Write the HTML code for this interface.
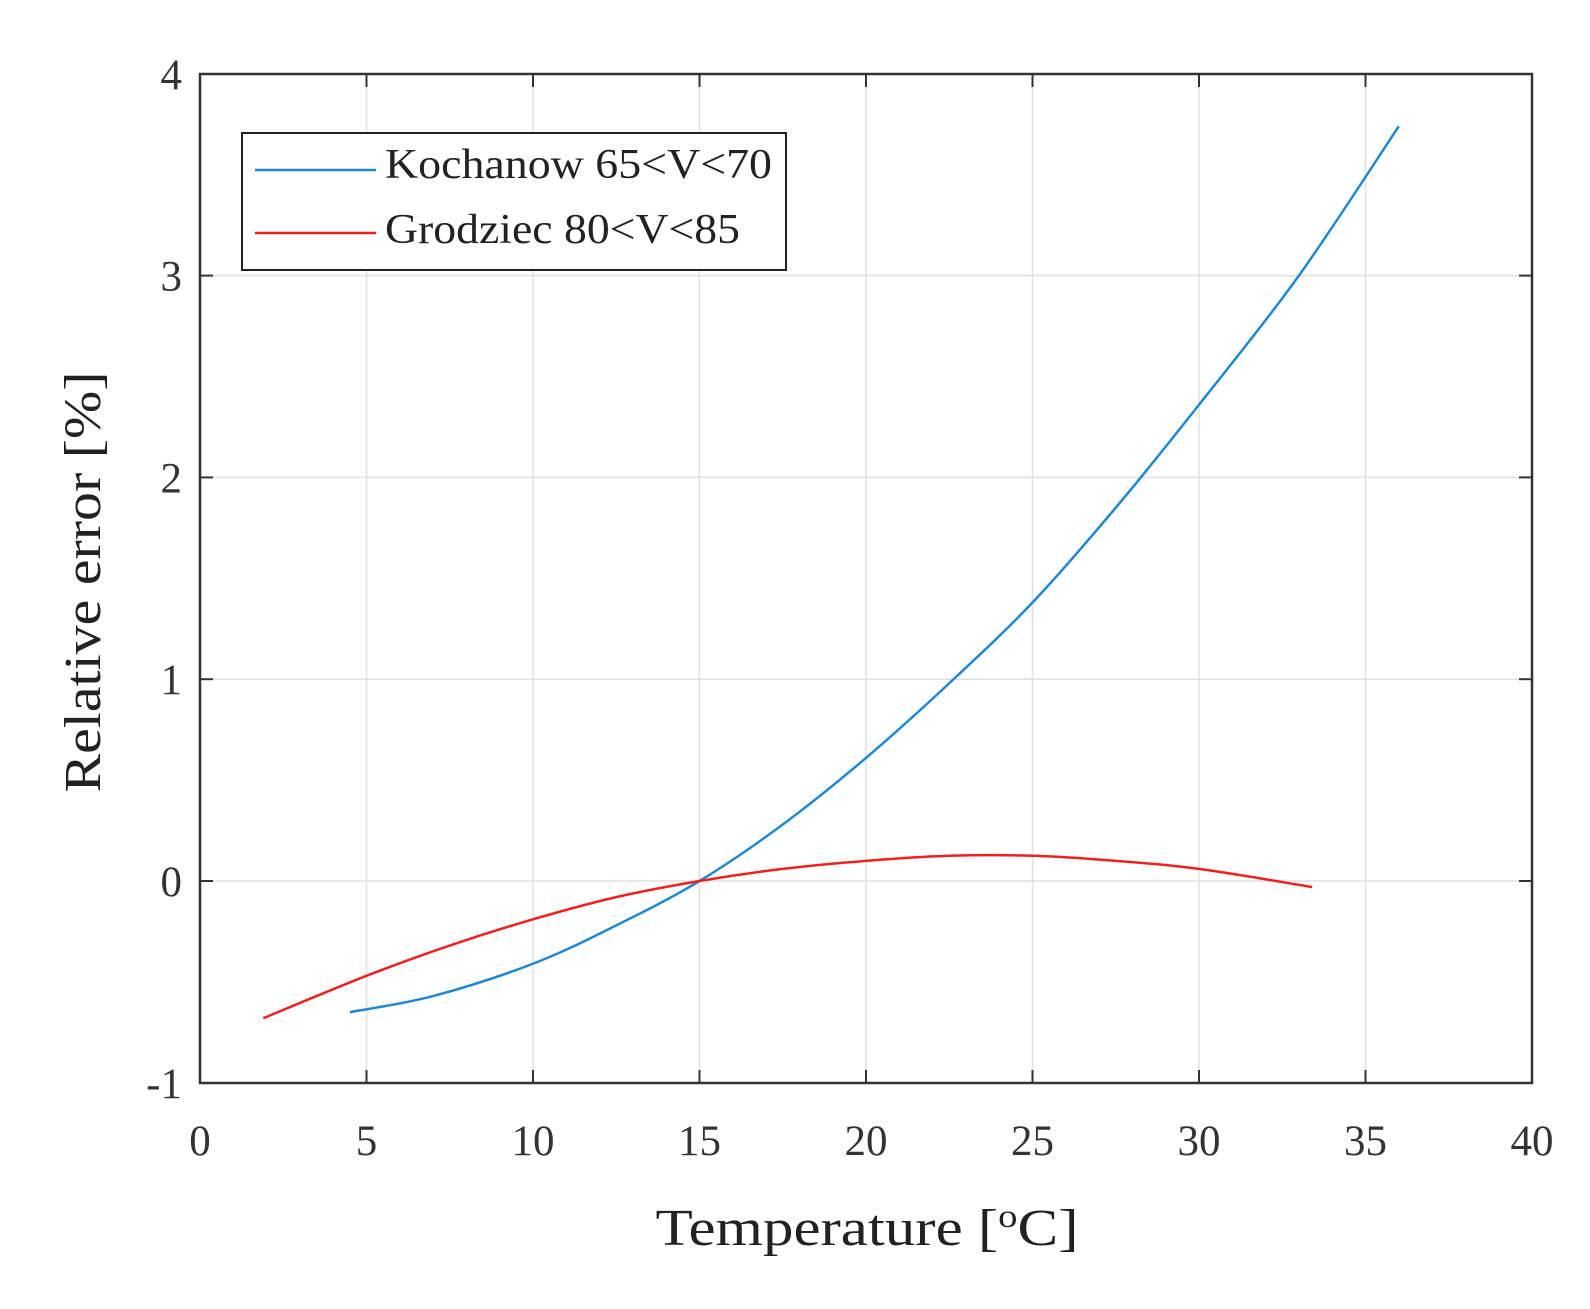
<!DOCTYPE html>
<html><head><meta charset="utf-8"><style>body{margin:0;background:#fff}svg{display:block}</style></head>
<body>
<svg id="s" width="1590" height="1309" xmlns="http://www.w3.org/2000/svg" font-family="Liberation Serif, serif" fill="#333">
<g id="grid" stroke="#e0e0e0" stroke-width="1.5"></g>
<g id="ticks" stroke="#333" stroke-width="2"></g>
<rect x="200" y="74" width="1332" height="1009" fill="none" stroke="#333" stroke-width="2.5"/>
<g id="labels" font-size="43"></g>
<path id="blue" fill="none" stroke="#1f88d0" stroke-width="2.5"/>
<path id="red" fill="none" stroke="#f02020" stroke-width="2.5"/>
<rect x="242" y="133" width="544" height="137" fill="#fff" stroke="#222" stroke-width="2"/>
<line x1="255" y1="170" x2="376" y2="170" stroke="#1f88d0" stroke-width="2.5"/>
<line x1="255" y1="233" x2="376" y2="233" stroke="#f02020" stroke-width="2.5"/>
<text x="385" y="178" font-size="42" fill="#222" textLength="387" lengthAdjust="spacingAndGlyphs">Kochanow 65&lt;V&lt;70</text>
<text x="385" y="243" font-size="42" fill="#222" textLength="355" lengthAdjust="spacingAndGlyphs">Grodziec 80&lt;V&lt;85</text>
<text x="867" y="1245" font-size="52" text-anchor="middle" fill="#222" textLength="423" lengthAdjust="spacingAndGlyphs">Temperature [<tspan dy="-18" font-size="33">o</tspan><tspan dy="18">C]</tspan></text>
<text transform="translate(100,582) rotate(-90)" font-size="52" text-anchor="middle" fill="#222" textLength="421" lengthAdjust="spacingAndGlyphs">Relative error [%]</text>
</svg>
<script>
const X=x=>200+x*33.3, Y=y=>881-y*201.8;
const ns="http://www.w3.org/2000/svg";
function el(p,t,a,txt){const e=document.createElementNS(ns,t);for(const k in a)e.setAttribute(k,a[k]);if(txt!==undefined)e.textContent=txt;document.getElementById(p).appendChild(e);}
for(let x=5;x<40;x+=5){el("grid","line",{x1:X(x),x2:X(x),y1:74,y2:1083});el("ticks","line",{x1:X(x),x2:X(x),y1:1083,y2:1070});el("ticks","line",{x1:X(x),x2:X(x),y1:74,y2:87});}
for(let y=0;y<4;y++){el("grid","line",{x1:200,x2:1532,y1:Y(y),y2:Y(y)});el("ticks","line",{x1:200,x2:213,y1:Y(y),y2:Y(y)});el("ticks","line",{x1:1532,x2:1519,y1:Y(y),y2:Y(y)});}
for(let x=0;x<=40;x+=5)el("labels","text",{x:X(x),y:1155,"text-anchor":"middle"},x);
for(let y=-1;y<=4;y++)el("labels","text",{x:182,y:Y(y)+15,"text-anchor":"end"},y);
function cr(pts){const P=pts.map(p=>[X(p[0]),Y(p[1])]);let d="M"+P[0];for(let i=0;i<P.length-1;i++){const p0=P[Math.max(i-1,0)],p1=P[i],p2=P[i+1],p3=P[Math.min(i+2,P.length-1)];
d+=" C"+[p1[0]+(p2[0]-p0[0])/6,p1[1]+(p2[1]-p0[1])/6]+" "+[p2[0]-(p3[0]-p1[0])/6,p2[1]-(p3[1]-p1[1])/6]+" "+p2;}return d;}
document.getElementById("blue").setAttribute("d",cr([[4.5,-0.65],[7,-0.57],[10,-0.41],[12.5,-0.22],[15,0],[17.5,0.28],[20,0.61],[22.5,0.98],[25,1.38],[27.5,1.85],[30,2.36],[33,3.0],[36,3.74]]));
document.getElementById("red").setAttribute("d",cr([[1.9,-0.68],[5,-0.47],[7.5,-0.32],[10,-0.19],[12.5,-0.08],[15,0],[17.5,0.06],[20,0.10],[22.5,0.125],[25,0.125],[27.5,0.10],[30,0.06],[33.4,-0.03]]));
</script>
</body></html>
